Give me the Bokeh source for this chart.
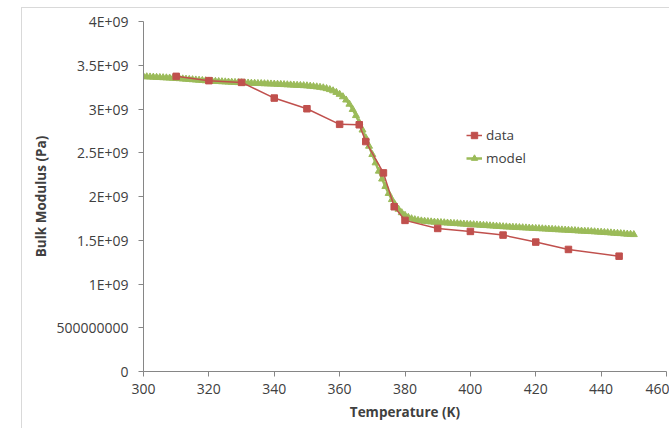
from bokeh.plotting import figure
from bokeh.models import FixedTicker, Legend, LegendItem, Range1d
from bokeh.embed import file_html
from bokeh.resources import INLINE

# ---- data ----
data_temp = [310, 320, 330, 340, 350, 360, 366, 368, 373.4, 376.7, 380,
             390, 400, 410, 420, 430, 445.5]
data_bulk = [3.373e9, 3.324e9, 3.304e9, 3.125e9, 3.003e9, 2.825e9, 2.82e9,
             2.628e9, 2.27e9, 1.883e9, 1.727e9, 1.635e9, 1.601e9, 1.559e9,
             1.479e9, 1.395e9, 1.318e9]

model_temp = list(range(300, 451))
model_bulk_e9 = [
    3.370, 3.368, 3.366, 3.364, 3.362, 3.360, 3.358, 3.356, 3.354, 3.352,
    3.350, 3.347, 3.344, 3.341, 3.338, 3.335, 3.332, 3.329, 3.326, 3.323,
    3.320, 3.318, 3.316, 3.314, 3.312, 3.310, 3.308, 3.306, 3.304, 3.302,
    3.300, 3.298, 3.297, 3.295, 3.294, 3.292, 3.291, 3.289, 3.288, 3.286,
    3.285, 3.283, 3.281, 3.279, 3.277, 3.275, 3.273, 3.271, 3.269, 3.267,
    3.265, 3.261, 3.257, 3.253, 3.248, 3.242, 3.233, 3.222, 3.208, 3.190,
    3.168, 3.140, 3.103, 3.055, 2.995, 2.925, 2.845, 2.760, 2.670, 2.575,
    2.480, 2.385, 2.290, 2.200, 2.115, 2.035, 1.965, 1.905, 1.855, 1.815,
    1.785, 1.762, 1.746, 1.735, 1.727, 1.721, 1.717, 1.713, 1.710, 1.707,
    1.705, 1.702, 1.700, 1.697, 1.695, 1.692, 1.690, 1.687, 1.685, 1.682,
    1.680, 1.678, 1.675, 1.673, 1.670, 1.668, 1.665, 1.663, 1.660, 1.658,
    1.655, 1.653, 1.651, 1.649, 1.647, 1.645, 1.643, 1.641, 1.639, 1.637,
    1.635, 1.633, 1.631, 1.629, 1.627, 1.625, 1.622, 1.620, 1.618, 1.616,
    1.614, 1.612, 1.610, 1.607, 1.605, 1.603, 1.601, 1.599, 1.597, 1.594,
    1.592, 1.589, 1.587, 1.584, 1.581, 1.579, 1.576, 1.573, 1.570, 1.568,
    1.565]
model_bulk = [v * 1e9 for v in model_bulk_e9]

x_ticks = [300, 320, 340, 360, 380, 400, 420, 440, 460]
y_ticks = [0, 5e8, 1e9, 1.5e9, 2e9, 2.5e9, 3e9, 3.5e9, 4e9]
y_tick_labels = ["0", "500000000", "1E+09", "1.5E+09", "2E+09", "2.5E+09",
                 "3E+09", "3.5E+09", "4E+09"]

FONT = "Open Sans"
TXT = "#404040"
AX = "#868686"

p = figure(width=648, height=421, output_backend="svg", toolbar_location=None,
           x_range=Range1d(300, 460), y_range=Range1d(0, 4e9),
           min_border_left=121, min_border_right=4, min_border_top=13,
           min_border_bottom=58, margin=(7, 0, 0, 21),
           styles={"border-left": "1px solid #d9d9d9",
                   "border-top": "1px solid #d9d9d9"})
p.outline_line_color = None
p.grid.visible = False

for ax in (p.xaxis[0], p.yaxis[0]):
    ax.axis_line_color = AX
    ax.major_tick_line_color = AX
    ax.minor_tick_line_color = None
    ax.major_tick_in = 0
    ax.major_tick_out = 5
    ax.major_label_text_font = FONT
    ax.major_label_text_font_size = "14px"
    ax.major_label_text_color = TXT
    ax.axis_label_text_font = FONT
    ax.axis_label_text_font_size = "13.5px"
    ax.axis_label_text_font_style = "bold"
    ax.axis_label_text_color = TXT

p.xaxis.major_label_standoff = 7
p.yaxis.major_label_standoff = 10
p.xaxis.ticker = FixedTicker(ticks=x_ticks)
p.yaxis.ticker = FixedTicker(ticks=y_ticks)
p.yaxis.major_label_overrides = {t: l for t, l in zip(y_ticks, y_tick_labels)}
p.xaxis.axis_label = "Temperature (K)"
p.yaxis.axis_label = "Bulk Modulus (Pa)"
p.xaxis.axis_label_standoff = 6
p.yaxis.axis_label_standoff = 3

RED = "#C0504D"
GREEN = "#9BBB59"

ml = p.line(model_temp, model_bulk, line_color=GREEN, line_width=2.5)
mm = p.scatter(model_temp, model_bulk, marker="triangle", size=7,
               fill_color=GREEN, line_color=GREEN)
dl = p.line(data_temp, data_bulk, line_color=RED, line_width=1.5)
dm = p.scatter(data_temp, data_bulk, marker="square", size=6.5,
               fill_color=RED, line_color=RED)

legend = Legend(items=[LegendItem(label="data", renderers=[dl, dm]),
                       LegendItem(label="model", renderers=[ml, mm])],
                location=(323, 203), border_line_color=None,
                background_fill_alpha=0, glyph_width=16, glyph_height=20,
                spacing=3, padding=5, label_standoff=4,
                label_text_font=FONT, label_text_font_size="13.5px",
                label_text_color=TXT)
p.add_layout(legend)

open("out.html", "w").write(file_html(p, INLINE))
